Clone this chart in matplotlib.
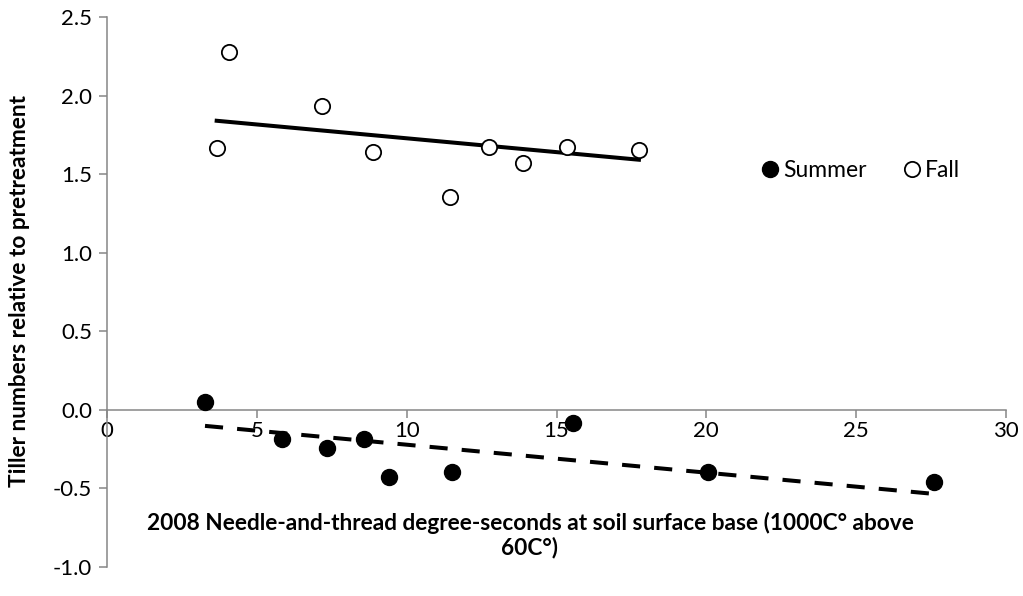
import numpy as np
import matplotlib.pyplot as plt

plt.rcParams['font.family'] = ['Lato', 'DejaVu Sans']

# Summer (filled) and Fall (open) observations
summer_x = [3.27, 5.83, 7.33, 8.56, 9.40, 11.50, 15.56, 20.04, 27.60]
summer_y = [0.047, -0.187, -0.244, -0.187, -0.425, -0.393, -0.081, -0.393, -0.457]
fall_x = [3.66, 4.07, 7.17, 8.87, 11.43, 12.75, 13.89, 15.36, 17.75]
fall_y = [1.669, 2.276, 1.936, 1.638, 1.355, 1.675, 1.571, 1.671, 1.652]

# linear trend lines as shown in the chart (intercept, slope)
summer_trend = (-0.0438, -0.0178)
fall_trend = (1.904, -0.0176)

x_ticks = [0, 5, 10, 15, 20, 25, 30]
y_ticks = [-1.0, -0.5, 0.0, 0.5, 1.0, 1.5, 2.0, 2.5]

axis_color = '#868686'

fig = plt.figure(figsize=(10.23, 5.96), dpi=100)
ax = fig.add_axes([0.1046, 0.0487, 0.8788, 0.9228])

for xs, (a, b), ls in [(summer_x, summer_trend, (0, (4.5, 3.5))),
                       (fall_x, fall_trend, '-')]:
    xr = np.array([min(xs), max(xs)])
    ax.plot(xr, a + b * xr, color='black', lw=2.9, linestyle=ls, zorder=2)

ax.plot(summer_x, summer_y, 'o', ms=11.5, color='black', label='Summer', zorder=3)
ax.plot(fall_x, fall_y, 'o', ms=11, mfc='white', mec='black', mew=1.3,
        label='Fall', zorder=3)

ax.set_xlim(0, 30)
ax.set_ylim(-1.0, 2.5)
ax.set_xticks(x_ticks)
ax.set_yticks(y_ticks)
ax.set_yticklabels([f'{v:.1f}' for v in y_ticks])

ax.spines['top'].set_visible(False)
ax.spines['right'].set_visible(False)
ax.spines['bottom'].set_position(('data', 0))
for s in ['left', 'bottom']:
    ax.spines[s].set_color(axis_color)
    ax.spines[s].set_linewidth(1.1)
ax.tick_params(axis='both', colors=axis_color, labelcolor='black',
               labelsize=16, length=5.8, width=1.1, direction='out')
ax.tick_params(axis='x', pad=2)
ax.tick_params(axis='y', pad=5)

fig.text(20 / 1023, 1 - 291 / 596, 'Tiller numbers relative to pretreatment',
         rotation=90, ha='center', va='center', fontsize=16.3, fontweight='bold')
fig.text(530 / 1023, 1 - 535 / 596,
         '2008 Needle-and-thread degree-seconds at soil surface base (1000C\u00b0 above\n60C\u00b0)',
         ha='center', va='center', fontsize=16.3, fontweight='bold', linespacing=1.15)

ax.legend(loc='center left', bbox_to_anchor=(0.702, 0.72), frameon=False,
          ncol=2, fontsize=16.5, handletextpad=0.05, columnspacing=1.5,
          handlelength=1.0, numpoints=1, borderpad=0.4)

fig.savefig('out.png', dpi=100)
